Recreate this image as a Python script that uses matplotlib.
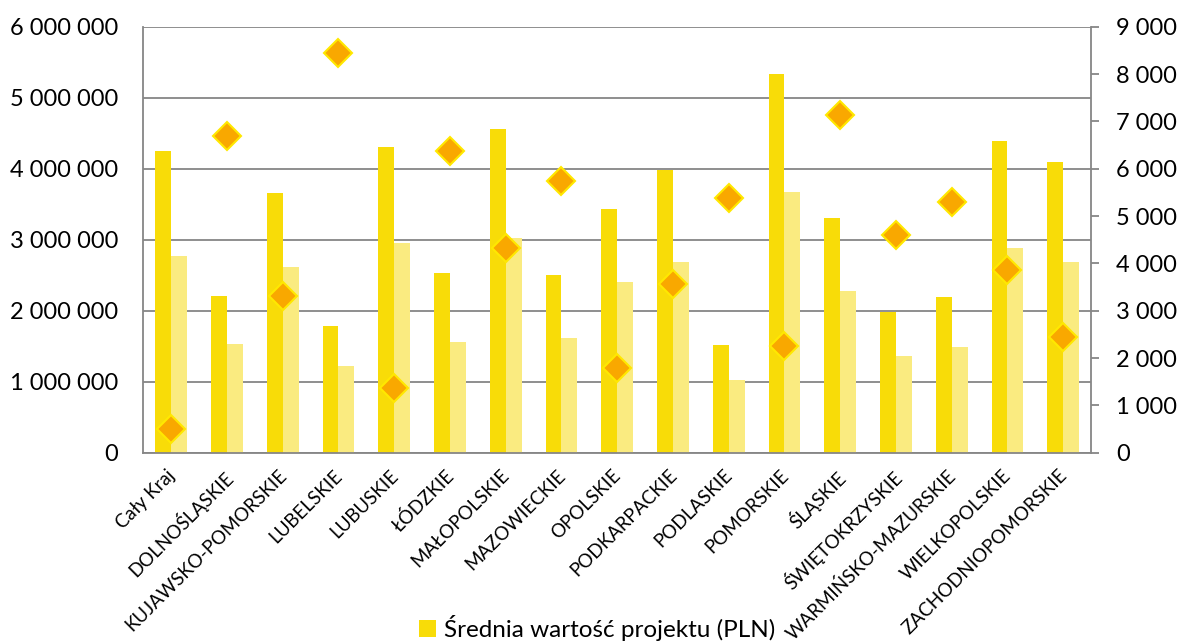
import matplotlib
matplotlib.use('Agg')
import matplotlib.pyplot as plt
from matplotlib.ticker import FuncFormatter, MultipleLocator
import matplotlib.transforms as mtransforms
import numpy as np

plt.rcParams['font.family'] = ['Lato', 'DejaVu Sans']

regions = ['Cały Kraj', 'DOLNOŚLĄSKIE', 'KUJAWSKO-POMORSKIE', 'LUBELSKIE', 'LUBUSKIE',
           'ŁÓDZKIE', 'MAŁOPOLSKIE', 'MAZOWIECKIE', 'OPOLSKIE', 'PODKARPACKIE',
           'PODLASKIE', 'POMORSKIE', 'ŚLĄSKIE', 'ŚWIĘTOKRZYSKIE', 'WARMIŃSKO-MAZURSKIE',
           'WIELKOPOLSKIE', 'ZACHODNIOPOMORSKIE']

# srednia wartosc projektu (PLN)
avg_value = [4254000, 2207000, 3662000, 1784000, 4305000, 2527000, 4555000, 2498000,
             3432000, 3986000, 1517000, 5334000, 3306000, 1982000, 2188000, 4390000, 4090000]
# druga seria slupkow (jasna)
second_value = [2766000, 1535000, 2615000, 1221000, 2949000, 1563000, 3020000, 1615000,
                2404000, 2690000, 1024000, 3667000, 2277000, 1357000, 1484000, 2887000, 2680000]
# seria na osi pomocniczej (romby)
right_value = [500, 6700, 3300, 8450, 1370, 6370, 4320, 5740, 1790, 3570, 5370, 2260,
               7135, 4590, 5300, 3850, 2440]

dark = '#F8DC08'
light = '#FAEB80'
grid_col = '#868686'

def fmt(v, pos):
    return f"{v:,.0f}".replace(",", " ")

fig = plt.figure(figsize=(11.8, 6.43), dpi=100)
ax = fig.add_axes([0.1215, 0.296, 0.8031, 0.6625])

x = np.arange(len(regions))
w = 0.285
b1 = ax.bar(x - w / 2, avg_value, w, color=dark, zorder=2, label='Średnia wartość projektu (PLN)')
ax.bar(x + w / 2, second_value, w, color=light, zorder=2)

ax.set_xlim(-0.5, len(regions) - 0.5)
ax.set_ylim(0, 6000000)
ax.yaxis.set_major_locator(MultipleLocator(1000000))
ax.yaxis.set_major_formatter(FuncFormatter(fmt))
ax.grid(axis='y', color=grid_col, lw=1.3, zorder=0)
ax.set_axisbelow(True)
ax.tick_params(axis='y', length=0, pad=18, labelsize=17)
ax.tick_params(axis='x', length=0, pad=10)
ax.set_xticks(x)
ax.set_xticklabels(regions, rotation=45, ha='right', rotation_mode='anchor', fontsize=13.5)
# przesuniecie etykiet troche w lewo
shift = mtransforms.ScaledTranslation(-5 / 100, 0, fig.dpi_scale_trans)
for lab in ax.get_xticklabels():
    lab.set_transform(lab.get_transform() + shift)
for s in ['top', 'right']:
    ax.spines[s].set_visible(False)
for s in ['left', 'bottom']:
    ax.spines[s].set_color(grid_col)
    ax.spines[s].set_linewidth(1.3)

ax2 = ax.twinx()
ax2.plot(x, right_value, linestyle='none', marker='D', markersize=14.5,
         markerfacecolor='#F9A800', markeredgecolor='#FFE800', markeredgewidth=1.5, zorder=3)
ax2.set_ylim(0, 9000)
ax2.yaxis.set_major_locator(MultipleLocator(1000))
ax2.yaxis.set_major_formatter(FuncFormatter(fmt))
ax2.tick_params(axis='y', length=6, width=1.3, color=grid_col, pad=12, labelsize=17)
for s in ['top', 'left', 'bottom']:
    ax2.spines[s].set_visible(False)
ax2.spines['right'].set_color(grid_col)
ax2.spines['right'].set_linewidth(1.3)

fig.legend(handles=[b1], loc='center left', bbox_to_anchor=(0.345, 0.024), frameon=False,
           fontsize=17.5, handlelength=0.7, handleheight=0.7, handletextpad=0.3, borderpad=0)

fig.savefig('out.png', dpi=100)
